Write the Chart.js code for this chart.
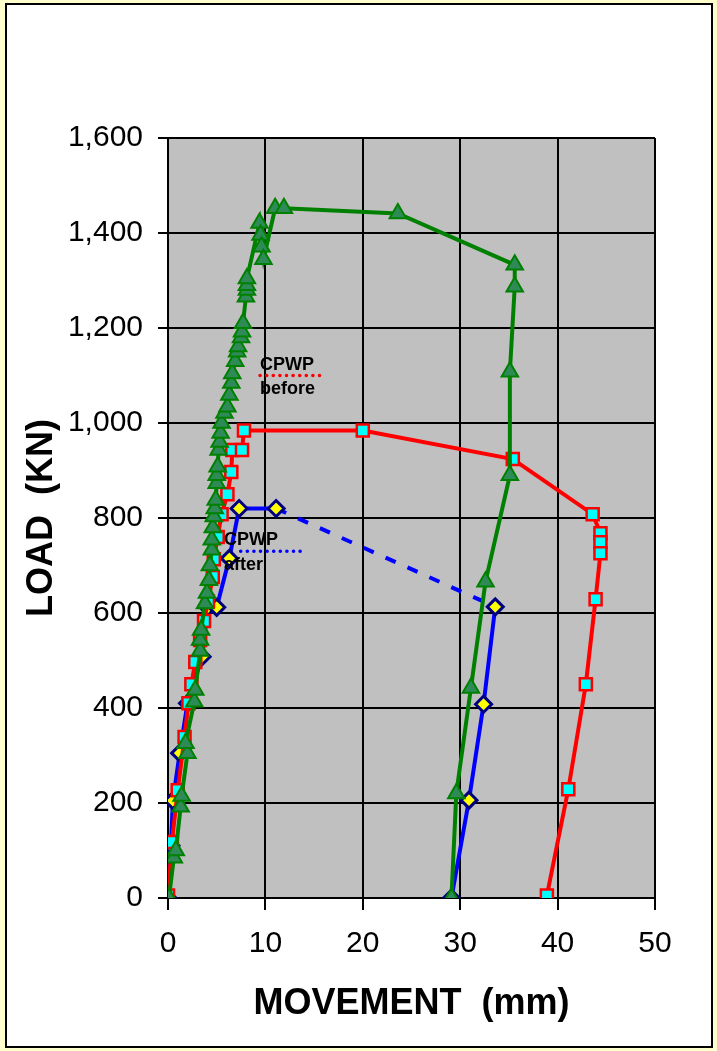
<!DOCTYPE html>
<html>
<head>
<meta charset="utf-8">
<script src="https://cdn.jsdelivr.net/npm/chart.js@4.4.1/dist/chart.umd.min.js"></script>
<style>
  html, body { margin: 0; padding: 0; background: #FFFFCC; }
  canvas { display: block; }
</style>
</head>
<body>
<canvas id="chart" width="717" height="1051"></canvas>
<script>
// Movement (mm) and load (kN)
const pileMovement = [0.1, 0.6, 0.8, 1.3, 1.4, 2.0, 1.8, 2.7, 2.8, 3.3, 3.3, 3.4, 3.8, 4.0, 4.2,
  4.3, 4.5, 4.5, 4.6, 4.7, 4.8, 4.9, 5.0, 5.0, 5.1, 5.2, 5.3, 5.4, 5.5, 5.8,
  6.1, 6.3, 6.5, 6.6, 6.9, 7.1, 7.2, 7.5, 7.6, 7.7, 8.0, 8.1, 8.1, 8.1, 9.4,
  9.5, 9.6, 9.8, 11.0, 11.9, 23.6, 35.6, 35.6, 35.1, 35.1, 32.6, 31.1, 29.6, 29.1];
const pileLoad = [0, 85, 100, 192, 215, 305, 326, 413, 438, 520, 543, 564, 620, 642, 669,
  700, 733, 754, 780, 803, 820, 838, 873, 890, 908, 943, 960, 979, 1000, 1021,
  1034, 1059, 1084, 1104, 1130, 1150, 1161, 1180, 1192, 1210, 1266, 1280, 1290, 1304, 1421,
  1396, 1371, 1345, 1452, 1452, 1441, 1333, 1287, 1108, 890, 666, 442, 220, 0];

const beforeMovement = [0.0, 0.4, 1.0, 1.7, 2.1, 2.4, 2.8, 3.3, 3.7, 4.1, 4.6, 4.7, 5.1, 5.5,
  6.1, 6.5, 6.6, 7.6, 7.8, 20.0, 35.4, 43.6, 44.4, 44.4, 44.4, 43.9, 42.9, 41.1, 38.9];
const beforeLoad = [5, 118, 227, 339, 410, 450, 497, 543, 583, 624, 676, 713, 760, 808,
  850, 897, 943, 943, 984, 984, 924, 808, 768, 749, 726, 629, 450, 229, 5];

const afterMovement = [0.0, 0.3, 0.5, 1.2, 2.0, 3.5, 4.1, 5.0, 6.3, 7.3, 11.1, 33.6, 32.4, 30.9, 29.1];
const afterLoad = [0, 110, 205, 305, 410, 508, 612, 612, 715, 820, 820, 613, 408, 206, 0];

const xTicks = [0, 10, 20, 30, 40, 50];
const yTicks = [0, 200, 400, 600, 800, 1000, 1200, 1400, 1600];

function toPoints(xs, ys) {
  return xs.map((x, i) => ({ x: x, y: ys[i] }));
}

// the step after the last "after" loading point is dashed
const dashFrom = afterMovement.indexOf(11.1);

// text notes drawn in the plot, anchored in data units
const notes = [
  { x: 9.45, yTop: 1111, yLine: 1100, yBottom: 1061, lineTo: 15.8, top: 'CPWP', bottom: 'before', color: '#FF0000' },
  { x: 5.75, yTop: 743, yLine: 730, yBottom: 690, lineStart: 7.46, lineTo: 13.6, top: 'CPWP', bottom: 'after', color: '#0000FF' }
];

const framePlugin = {
  id: 'frame',
  beforeDraw(chart) {
    const ctx = chart.ctx;
    const a = chart.chartArea;
    ctx.save();
    ctx.fillStyle = '#FFFFCC';
    ctx.fillRect(0, 0, chart.width, chart.height);
    ctx.fillStyle = '#FFFFFF';
    ctx.fillRect(6, 4, 706, 1043);
    ctx.strokeStyle = '#000000';
    ctx.lineWidth = 2;
    ctx.strokeRect(6, 4, 706, 1043);
    ctx.fillStyle = '#C0C0C0';
    ctx.fillRect(a.left, a.top, a.right - a.left, a.bottom - a.top);
    ctx.restore();
  }
};

const notesPlugin = {
  id: 'notes',
  afterDatasetsDraw(chart) {
    const ctx = chart.ctx;
    const xs = chart.scales.x;
    const ys = chart.scales.y;
    ctx.save();
    ctx.font = 'bold 18px "Liberation Sans", Arial, sans-serif';
    ctx.fillStyle = '#000000';
    ctx.textAlign = 'left';
    ctx.textBaseline = 'alphabetic';
    notes.forEach(n => {
      const px = xs.getPixelForValue(n.x);
      ctx.fillText(n.top, px, ys.getPixelForValue(n.yTop));
      ctx.fillText(n.bottom, px, ys.getPixelForValue(n.yBottom));
      ctx.beginPath();
      ctx.setLineDash([0.1, 6.5]);
      ctx.lineCap = 'round';
      ctx.lineWidth = 3.5;
      ctx.strokeStyle = n.color;
      const ly = ys.getPixelForValue(n.yLine);
      ctx.moveTo(xs.getPixelForValue(n.lineStart !== undefined ? n.lineStart : n.x), ly);
      ctx.lineTo(xs.getPixelForValue(n.lineTo), ly);
      ctx.stroke();
    });
    ctx.restore();
  }
};

const tickFont = { family: '"Liberation Sans", Arial, sans-serif', size: 30 };
const titleFont = { family: '"Liberation Sans", Arial, sans-serif', size: 36, weight: 'bold' };

new Chart(document.getElementById('chart'), {
  type: 'line',
  data: {
    datasets: [
      {
        label: 'Pile',
        data: toPoints(pileMovement, pileLoad),
        borderColor: '#008000',
        borderWidth: 4,
        pointStyle: 'triangle',
        pointRadius: 9.5,
        pointBackgroundColor: '#2E8B57',
        pointBorderColor: '#008000',
        pointBorderWidth: 2,
        tension: 0
      },
      {
        label: 'CPWP before',
        data: toPoints(beforeMovement, beforeLoad),
        borderColor: '#FF0000',
        borderWidth: 4,
        pointStyle: 'rect',
        pointRadius: 8.5,
        pointBackgroundColor: '#00FFFF',
        pointBorderColor: '#FF0000',
        pointBorderWidth: 2.5,
        tension: 0
      },
      {
        label: 'CPWP after',
        data: toPoints(afterMovement, afterLoad),
        borderColor: '#0000FF',
        borderWidth: 4,
        pointStyle: 'rectRot',
        pointRadius: 8,
        pointBackgroundColor: '#FFFF00',
        pointBorderColor: '#000080',
        pointBorderWidth: 3,
        tension: 0,
        segment: {
          borderDash: c => c.p0DataIndex === dashFrom ? [11, 13] : undefined
        }
      }
    ]
  },
  options: {
    responsive: false,
    animation: false,
    devicePixelRatio: 1,
    locale: 'en-US',
    layout: { padding: { left: 0, top: 138, right: 62, bottom: 0 } },
    plugins: {
      legend: { display: false },
      tooltip: { enabled: false }
    },
    scales: {
      x: {
        type: 'linear',
        min: 0,
        max: 50,
        afterFit: s => { s.height = 153; },
        afterBuildTicks: s => { s.ticks = xTicks.map(v => ({ value: v })); },
        grid: { color: '#000000', lineWidth: 2, tickLength: 12, tickColor: '#000000', tickWidth: 2 },
        border: { display: true, color: '#000000', width: 2 },
        ticks: { font: tickFont, color: '#000000', padding: 16, maxRotation: 0 },
        title: {
          display: true,
          text: 'MOVEMENT  (mm)',
          font: titleFont,
          color: '#000000',
          padding: { top: 0, bottom: 25 }
        }
      },
      y: {
        type: 'linear',
        min: 0,
        max: 1600,
        afterFit: s => { s.width = 168; },
        afterBuildTicks: s => { s.ticks = yTicks.map(v => ({ value: v })); },
        grid: { color: '#000000', lineWidth: 2, tickLength: 10, tickColor: '#000000', tickWidth: 2 },
        border: { display: true, color: '#000000', width: 2 },
        ticks: { font: tickFont, color: '#000000', padding: 15 },
        title: {
          display: true,
          text: 'LOAD  (KN)',
          font: titleFont,
          color: '#000000',
          padding: { top: 20, bottom: 0 }
        }
      }
    }
  },
  plugins: [framePlugin, notesPlugin]
});
</script>
</body>
</html>
